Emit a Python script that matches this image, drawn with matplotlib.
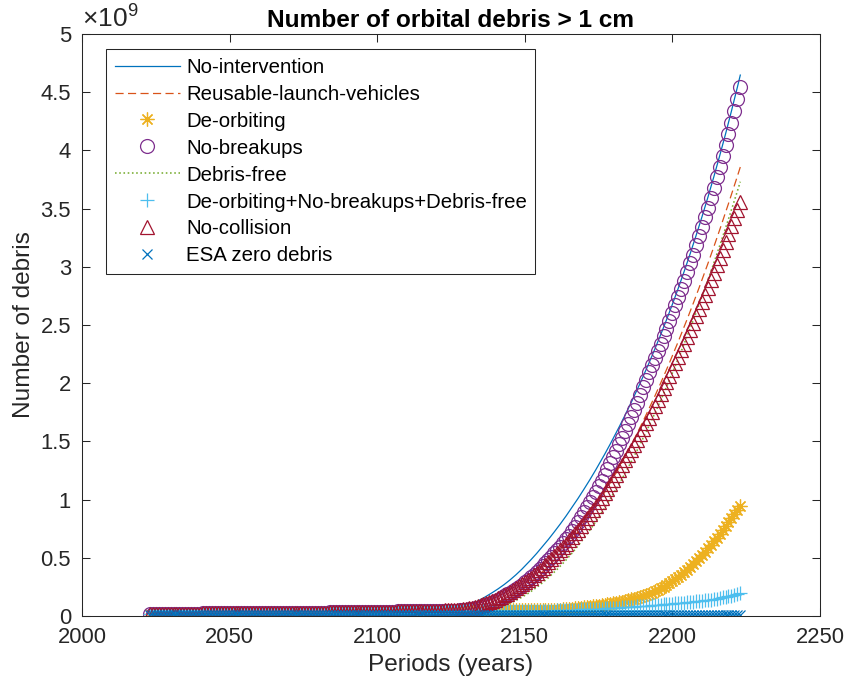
import numpy as np
import matplotlib
matplotlib.use("Agg")
import matplotlib.pyplot as plt
from matplotlib.ticker import FuncFormatter, MultipleLocator

plt.rcParams["font.family"] = ["Liberation Sans", "DejaVu Sans"]
plt.rcParams["mathtext.fontset"] = "custom"
plt.rcParams["mathtext.rm"] = "Liberation Sans"

first_year = 2023
last_year = 2223

# 軌道デブリ数（単位：百万個）
# 2023-2119 はどのシナリオもほぼ同じ水準
early_base = [
    18, 18, 18, 19, 19, 19, 19, 19, 20, 20,
    20, 20, 20, 21, 21, 21, 21, 21, 22, 22,
    22, 22, 22, 23, 23, 23, 23, 23, 24, 24,
    24, 24, 24, 25, 25, 25, 25, 25, 26, 26,
    26, 26, 26, 27, 27, 27, 27, 27, 28, 28,
    28, 28, 28, 29, 29, 29, 29, 30, 30, 30,
    30, 31, 31, 31, 31, 32, 32, 32, 33, 33,
    33, 34, 34, 34, 35, 35, 35, 36, 36, 37,
    37, 37, 38, 38, 39, 39, 40, 40, 41, 41,
    42, 42, 43, 43, 44, 44, 45,
]

# 2120-2223
no_intervention = early_base + [
    45, 47, 49, 51, 54, 57, 62, 66, 72, 79,
    86, 95, 104, 115, 128, 141, 155, 170, 185, 201,
    217, 234, 252, 270, 290, 310, 332, 354, 378, 402,
    428, 454, 481, 509, 537, 567, 596, 627, 658, 690,
    723, 756, 790, 825, 860, 897, 933, 971, 1009, 1048,
    1088, 1128, 1169, 1211, 1254, 1298, 1342, 1387, 1433, 1480,
    1528, 1576, 1626, 1676, 1727, 1779, 1832, 1886, 1941, 1996,
    2053, 2110, 2169, 2229, 2290, 2352, 2415, 2479, 2544, 2610,
    2678, 2747, 2817, 2888, 2961, 3035, 3111, 3188, 3267, 3347,
    3428, 3511, 3595, 3682, 3770, 3860, 3952, 4046, 4141, 4239,
    4338, 4439, 4542, 4647,
]

reusable = early_base + [
    45, 45, 46, 46, 46, 47, 47, 47,
    48, 48, 50, 52, 55, 59, 63, 69, 75, 82,
    90, 99, 109, 119, 131, 143, 156, 170, 185, 200,
    217, 234, 252, 271, 291, 312, 333, 356, 379, 403,
    428, 454, 480, 508, 536, 565, 595, 626, 657, 690,
    723, 757, 792, 828, 865, 903, 941, 980, 1020, 1061,
    1103, 1146, 1189, 1233, 1279, 1325, 1371, 1419, 1468, 1517,
    1567, 1618, 1670, 1723, 1777, 1831, 1886, 1942, 1999, 2057,
    2116, 2175, 2236, 2297, 2359, 2422, 2486, 2550, 2615, 2682,
    2749, 2817, 2886, 2955, 3026, 3097, 3169, 3242, 3316, 3391,
    3466, 3543, 3620, 3698, 3777, 3857,
]

de_orbiting = early_base + [
    45, 45, 45, 45, 45, 45, 46, 46, 46, 46,
    46, 46, 46, 46, 47, 47, 47, 47, 47, 47,
    47, 47, 47, 48, 48, 48, 48, 48, 48, 48,
    48, 48, 49, 49, 49, 49, 49, 49, 50, 50,
    50, 52, 54, 56, 58, 60, 62, 65, 68, 71,
    74, 77, 80, 83, 87, 90, 93, 97, 101, 105,
    109, 114, 119, 124, 130, 136, 142, 149, 156, 164,
    172, 181, 191, 201, 212, 224, 237, 251, 266, 282,
    299, 317, 336, 356, 377, 399, 422, 446, 471, 497,
    524, 552, 581, 611, 642, 674, 706, 740, 774, 808,
    842, 876, 910, 948,
]

no_breakups = early_base + [
    45, 45, 45, 45, 45, 45, 45, 47, 49, 51,
    54, 57, 62, 66, 72, 79, 86, 95, 104, 115,
    128, 141, 155, 170, 185, 201, 217, 234, 252, 270,
    290, 310, 332, 354, 378, 402, 428, 454, 481, 509,
    537, 567, 596, 627, 658, 690, 729, 767, 808, 848,
    891, 933, 977, 1022, 1068, 1115, 1162, 1211, 1261, 1313,
    1365, 1419, 1474, 1532, 1590, 1649, 1709, 1771, 1834, 1899,
    1964, 2030, 2094, 2157, 2218, 2279, 2341, 2405, 2469, 2534,
    2601, 2669, 2739, 2809, 2881, 2954, 3029, 3105, 3183, 3262,
    3343, 3425, 3509, 3592, 3680, 3769, 3860, 3952, 4046, 4141,
    4239, 4338, 4439, 4542,
]

debris_free = early_base + [
    45, 45, 45, 45, 45, 45, 45, 45, 45, 45, 45, 45, 45,
    45, 45, 47, 49, 52, 56, 61, 67, 74, 82,
    91, 100, 111, 122, 134, 147, 161, 176, 192, 209,
    227, 246, 265, 286, 307, 329, 353, 377, 402, 428,
    455, 482, 511, 540, 571, 602, 635, 668, 702, 737,
    773, 810, 848, 886, 926, 966, 1008, 1050, 1093, 1137,
    1182, 1228, 1275, 1323, 1372, 1421, 1472, 1523, 1576, 1629,
    1683, 1738, 1794, 1851, 1909, 1967, 2027, 2087, 2149, 2211,
    2275, 2339, 2404, 2470, 2537, 2604, 2673, 2743, 2813, 2885,
    2957, 3030, 3104, 3180, 3256, 3332, 3410, 3489, 3569, 3649,
    3731,
]

combined = early_base + [
    45, 45, 45, 45, 45, 45, 45, 45, 45, 45,
    45, 45, 45, 45, 45, 45, 45, 45, 45, 45,
    45, 45, 45, 45, 46, 46, 46, 46, 46, 46,
    46, 46, 46, 46, 46, 47, 47, 47, 47, 47,
    47, 48, 49, 50, 51, 52, 53, 54, 55, 56,
    57, 58, 59, 60, 61, 62, 64, 65, 66, 68,
    69, 71, 72, 74, 75, 77, 79, 80, 82, 84,
    86, 88, 90, 92, 94, 96, 98, 100, 102, 104,
    106, 108, 110, 112, 115, 117, 120, 122, 125, 128,
    131, 134, 137, 141, 145, 149, 154, 159, 164, 170,
    176, 182, 188, 195,
]

no_collision = early_base + [
    45, 46, 47, 48,
    48, 48, 49, 51, 54, 57, 61, 66, 71, 77,
    84, 91, 100, 109, 118, 129, 140, 151, 164, 177,
    191, 206, 221, 237, 254, 272, 290, 309, 329, 349,
    370, 392, 415, 438, 462, 487, 512, 538, 565, 593,
    621, 650, 680, 710, 741, 773, 806, 839, 873, 908,
    943, 979, 1016, 1054, 1092, 1131, 1171, 1211, 1252, 1294,
    1337, 1380, 1424, 1469, 1514, 1561, 1607, 1655, 1703, 1752,
    1802, 1853, 1904, 1956, 2008, 2062, 2116, 2171, 2226, 2282,
    2339, 2397, 2455, 2514, 2574, 2635, 2696, 2758, 2820, 2884,
    2948, 3013, 3078, 3144, 3211, 3279, 3347, 3416, 3486, 3557,
]

esa_zero_debris = [
    12, 12, 12, 12, 12, 12, 12, 12, 12, 12,
    12, 12, 12, 12, 12, 12, 12, 12, 12, 12,
    12, 12, 12, 12, 12, 12, 12, 12, 12, 12,
    12, 12, 12, 12, 12, 12, 12, 12, 12, 12,
    11, 11, 11, 11, 11, 11, 11, 11, 11, 11,
    11, 11, 11, 11, 11, 11, 11, 11, 11, 11,
    11, 11, 11, 11, 11, 11, 11, 11, 11, 11,
    11, 11, 11, 11, 11, 11, 11, 11, 11, 11,
    10, 10, 10, 10, 10, 10, 10, 10, 10, 10,
    10, 10, 10, 10, 10, 10, 10, 10, 10, 10,
    10, 10, 10, 10, 10, 10, 10, 10, 10, 10,
    10, 10, 10, 10, 10, 10, 10, 10, 10, 10,
    9, 9, 9, 9, 9, 9, 9, 9, 9, 9,
    9, 9, 9, 9, 9, 9, 9, 9, 9, 9,
    9, 9, 9, 9, 9, 9, 9, 9, 9, 9,
    8, 8, 8, 8, 8, 8, 8, 8, 8, 8,
    8, 8, 8, 8, 8, 8, 8, 8, 8, 8,
    7, 7, 7, 7, 7, 7, 7, 7, 7, 7,
    7, 7, 7, 7, 7,
    6, 6, 6, 6, 6, 6, 6, 6, 6, 6,
    6, 6, 6, 6, 6, 6,
]


def main():
    years = np.arange(first_year, last_year + 1)
    mil = 1e6  # 百万 → 個

    fig = plt.figure(figsize=(8.45, 6.91), dpi=100)
    ax = fig.add_axes([82 / 845, 75 / 691, 738 / 845, 582 / 691])

    lw = 0.9
    mew = 0.9
    ax.plot(years, np.array(no_intervention) * mil, "-", color="#0072BD", lw=lw,
            label="No-intervention")
    ax.plot(years, np.array(reusable) * mil, "--", dashes=(6.5, 3.5),
            color="#D95319", lw=lw, label="Reusable-launch-vehicles")
    ax.plot(years, np.array(de_orbiting) * mil, ls="none", marker=(8, 2, 0), ms=10,
            mew=mew, color="#EDB120", label="De-orbiting")
    ax.plot(years, np.array(no_breakups) * mil, ls="none", marker="o", ms=10,
            mew=mew, mfc="none", color="#7E2F8E", label="No-breakups")
    ax.plot(years, np.array(debris_free) * mil, ":", color="#77AC30", lw=1.15,
            label="Debris-free")
    ax.plot(years, np.array(combined) * mil, ls="none", marker="+", ms=10,
            mew=mew, color="#4DBEEE", label="De-orbiting+No-breakups+Debris-free")
    ax.plot(years, np.array(no_collision) * mil, ls="none", marker="^", ms=10,
            mew=mew, mfc="none", color="#A2142F", label="No-collision")
    ax.plot(years, np.array(esa_zero_debris) * mil, ls="none", marker="x", ms=7.5,
            mew=mew, color="#0072BD", label="ESA zero debris")

    ax.set_xlim(2000, 2250)
    ax.set_ylim(0, 5e9)
    ax.xaxis.set_major_locator(MultipleLocator(50))
    ax.yaxis.set_major_locator(MultipleLocator(0.5e9))
    ax.yaxis.set_major_formatter(FuncFormatter(lambda v, p: f"{v / 1e9:g}"))
    ax.text(0, 1.004, r"$\times10^{9}$", transform=ax.transAxes, ha="left",
            va="bottom", fontsize=19, color="#262626")

    ax.tick_params(direction="in", top=True, right=True, length=5.8, width=0.75,
                   labelsize=15.8, colors="#262626", pad=8)
    for s in ax.spines.values():
        s.set_color("#262626")
        s.set_linewidth(0.75)

    ax.set_title("Number of orbital debris > 1 cm", fontsize=17.6,
                 fontweight="bold", pad=5)
    ax.set_xlabel("Periods (years)", fontsize=17.6, color="#262626")
    ax.set_ylabel("Number of debris", fontsize=17.6, color="#262626")

    leg = ax.legend(loc="upper left", bbox_to_anchor=(0.0325, 0.974),
                    borderaxespad=0, fontsize=14.7, fancybox=False,
                    edgecolor="#262626", framealpha=1, handlelength=3.2,
                    handletextpad=0.3, labelspacing=0.39, borderpad=0.42,
                    numpoints=1)
    leg.get_frame().set_linewidth(0.75)

    fig.savefig("out.png", dpi=100)


if __name__ == "__main__":
    main()
